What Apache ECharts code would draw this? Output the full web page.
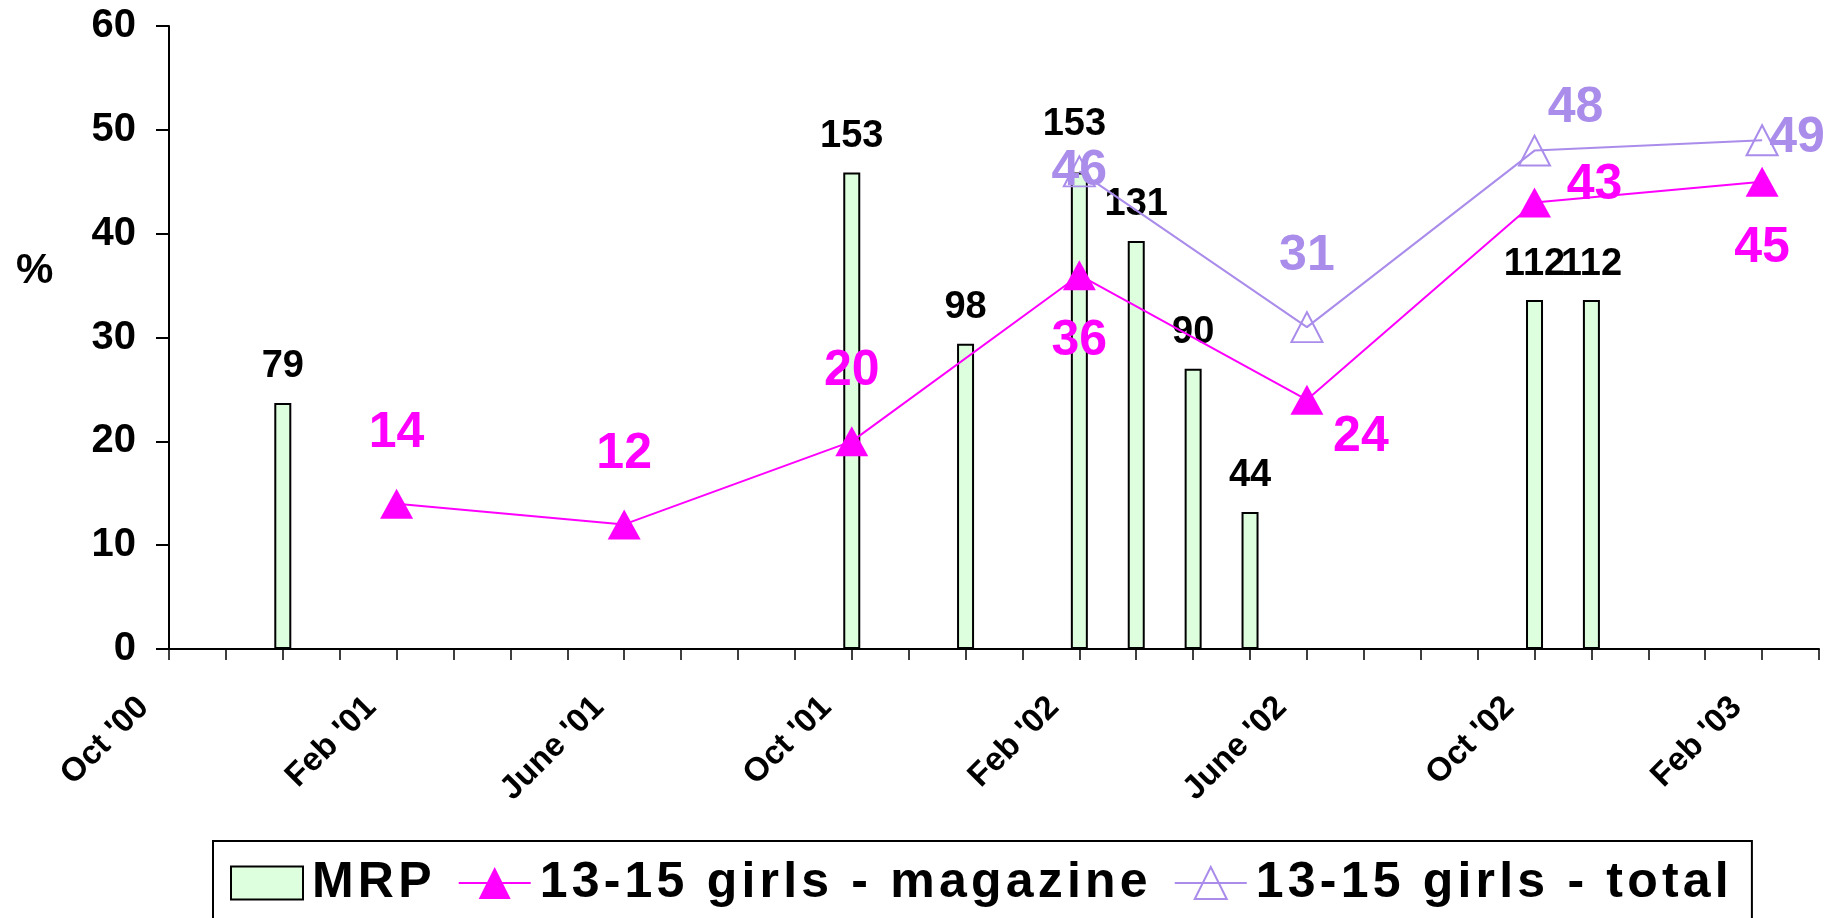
<!DOCTYPE html>
<html>
<head>
<meta charset="utf-8">
<script src="https://cdn.jsdelivr.net/npm/echarts@6/dist/echarts.min.js"></script>
<style>
  html, body { margin: 0; padding: 0; background: #fff; }
  #chart { width: 1834px; height: 918px; }
</style>
</head>
<body>
<div id="chart"></div>
<script>
// Monthly survey slots, Oct 2000 to Mar 2003
const months = ["Oct '00", "Nov '00", "Dec '00", "Jan '01", "Feb '01", "Mar '01", "Apr '01", "May '01",
  "June '01", "July '01", "Aug '01", "Sept '01", "Oct '01", "Nov '01", "Dec '01", "Jan '02",
  "Feb '02", "Mar '02", "Apr '02", "May '02", "June '02", "July '02", "Aug '02", "Sept '02",
  "Oct '02", "Nov '02", "Dec '02", "Jan '03", "Feb '03", "Mar '03"];

// MRP (secondary scale, 0-200)
const mrp = [null, null, 79, null, null, null, null, null,
  null, null, null, null, 153, null, 98, null,
  153, 131, 90, 44, null, null, null, null,
  112, 112, null, null, null, null];

// 13-15 girls - magazine (%)
const girlsMagazine = [null, null, null, null, 14, null, null, null,
  12, null, null, null, 20, null, null, null,
  36, null, null, null, 24, null, null, null,
  43, null, null, null, 45, null];

// 13-15 girls - total (%)
const girlsTotal = [null, null, null, null, null, null, null, null,
  null, null, null, null, null, null, null, null,
  46, null, null, null, 31, null, null, null,
  48, null, null, null, 49, null];

const yTicks = { min: 0, max: 60, step: 10 };

const FONT = "'Liberation Sans', Arial, sans-serif";
const MAGENTA = '#FF00FF';
const LAVENDER = '#AA8CEB';
const BAR_FILL = '#DDFFDD';

// Where each value label sits relative to its marker
const magazineLabelPlace = { 4: 'top', 8: 'top', 12: 'top', 16: 'bottom', 20: [54, 37], 24: [60, -17], 28: 'bottom' };
const totalLabelPlace = { 16: [0, 0], 20: 'top', 24: [41, -42], 28: [35, -2] };
const barLabelNudge = { 16: [-5, -12] };

function lineItems(values, places) {
  return values.map((v, i) => {
    if (v == null) return null;
    const p = places[i];
    let label;
    if (Array.isArray(p)) label = { position: 'inside', offset: p };
    else if (p === 'bottom') label = { position: 'bottom', distance: 26 };
    else label = { position: 'top', distance: 30 };
    return { value: v, label };
  });
}

function barItems(values) {
  return values.map((v, i) => {
    if (v == null) return null;
    const n = barLabelNudge[i];
    return n ? { value: v, label: { offset: n } } : { value: v };
  });
}

// Legend text: bold, with extra tracking between letters
const spaced = name => name.split('').map((ch, i) => '{' + (i === 0 ? 'f' : 'c') + '|' + ch + '}').join('');
const legendFont = { fontSize: 50, fontWeight: 'bold', fontFamily: FONT, color: '#000', lineHeight: 50 };

const chart = echarts.init(document.getElementById('chart'));
chart.setOption({
  animation: false,
  backgroundColor: '#fff',
  textStyle: { fontFamily: FONT },
  title: {
    text: '%', left: 16, top: 250, padding: 0,
    textStyle: { fontSize: 42, fontWeight: 'bold', color: '#000', fontFamily: FONT }
  },
  grid: { left: 169, right: 15, top: 26, bottom: 269, containLabel: false },
  legend: {
    left: 213, top: 841,
    padding: [17, 19, 40, 17],
    itemGap: 22, itemWidth: 72, itemHeight: 40,
    borderColor: '#000', borderWidth: 2,
    selectedMode: false,
    formatter: spaced,
    textStyle: {
      ...legendFont,
      rich: {
        f: { ...legendFont, padding: [0, 4.2, 0, 4] },
        c: { ...legendFont, padding: [0, 4.2, 0, 0] }
      }
    },
    data: [
      { name: 'MRP', icon: 'path://M0 0H72V33H0Z', itemStyle: { color: BAR_FILL, borderColor: '#000', borderWidth: 2 } },
      { name: '13-15 girls - magazine' },
      { name: '13-15 girls - total', itemStyle: { color: 'rgba(0,0,0,0)', borderColor: LAVENDER, borderWidth: 2 } }
    ]
  },
  xAxis: {
    type: 'category',
    data: months,
    boundaryGap: false,
    axisLine: { lineStyle: { color: '#000', width: 2 } },
    axisTick: { interval: 0, length: 11, lineStyle: { color: '#000', width: 1.5 } },
    axisLabel: {
      interval: 3, rotate: 45, margin: 28, padding: [0, 36, 0, 0],
      fontSize: 33, fontWeight: 'bold', color: '#000', fontFamily: FONT
    },
    splitLine: { show: false }
  },
  yAxis: [
    {
      type: 'value', min: yTicks.min, max: yTicks.max, interval: yTicks.step,
      axisLine: { show: true, lineStyle: { color: '#000', width: 2 } },
      axisTick: { show: true, length: 13, lineStyle: { color: '#000', width: 2 } },
      axisLabel: { margin: 33, fontSize: 40, fontWeight: 'bold', color: '#000', fontFamily: FONT },
      splitLine: { show: false }
    },
    { type: 'value', min: 0, max: 200, show: false, splitLine: { show: false } }
  ],
  series: [
    {
      name: 'MRP', type: 'bar', yAxisIndex: 1,
      data: barItems(mrp), barWidth: 17,
      itemStyle: { color: BAR_FILL, borderColor: '#000', borderWidth: 2 },
      label: { show: true, position: 'top', distance: 17, fontSize: 38, fontWeight: 'bold', color: '#000', fontFamily: FONT }
    },
    {
      name: '13-15 girls - magazine', type: 'line', connectNulls: true,
      data: lineItems(girlsMagazine, magazineLabelPlace),
      symbol: 'triangle', symbolSize: [33, 30],
      lineStyle: { color: MAGENTA, width: 2 },
      itemStyle: { color: MAGENTA },
      label: { show: true, fontSize: 50, fontWeight: 'bold', color: MAGENTA, fontFamily: FONT }
    },
    {
      name: '13-15 girls - total', type: 'line', connectNulls: true,
      data: lineItems(girlsTotal, totalLabelPlace),
      symbol: 'triangle', symbolSize: [31, 30],
      lineStyle: { color: LAVENDER, width: 2 },
      itemStyle: { color: 'rgba(0,0,0,0)', borderColor: LAVENDER, borderWidth: 2 },
      label: { show: true, fontSize: 50, fontWeight: 'bold', color: LAVENDER, fontFamily: FONT }
    }
  ]
});
</script>
</body>
</html>
